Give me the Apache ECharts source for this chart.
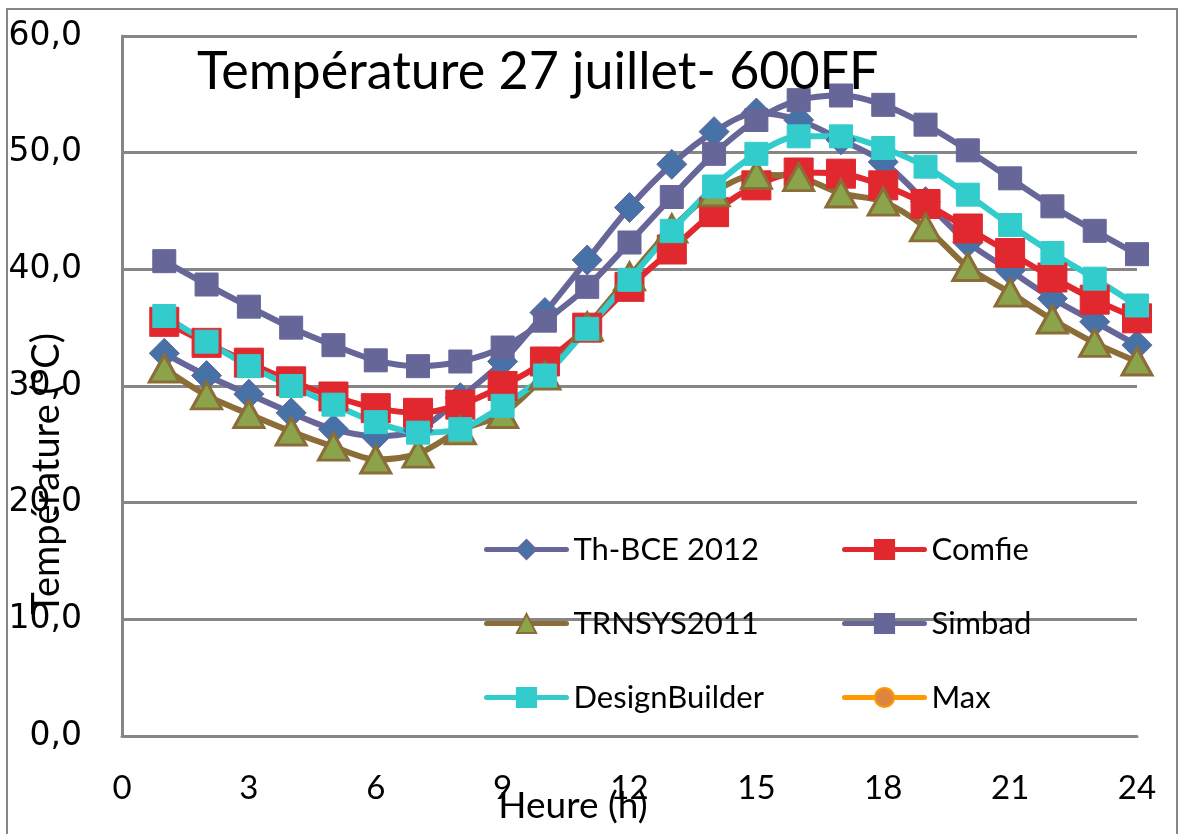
<!DOCTYPE html>
<html>
<head>
<meta charset="utf-8">
<script src="https://cdn.jsdelivr.net/npm/echarts@6/dist/echarts.min.js"></script>
<style>
html,body{margin:0;padding:0;background:#fff;}
#chart{width:1179px;height:834px;}
</style>
</head>
<body>
<div id="chart"></div>
<script>
// hours 1..24
const hours = [1,2,3,4,5,6,7,8,9,10,11,12,13,14,15,16,17,18,19,20,21,22,23,24];
const thBCE = [32.8,30.9,29.3,27.7,26.3,25.7,26.2,29.0,32.1,36.3,40.8,45.3,49.0,51.8,53.4,52.8,51.1,49.2,45.8,42.3,39.9,37.5,35.5,33.5];
const comfie = [35.5,33.7,32.0,30.4,29.1,28.1,27.7,28.4,30.0,32.1,35.0,38.5,41.7,44.9,47.2,48.3,48.2,47.2,45.6,43.5,41.4,39.3,37.4,35.8];
const trnsys = [31.5,29.2,27.6,26.1,24.8,23.7,24.2,26.2,27.6,30.9,35.1,39.4,43.5,46.6,48.1,47.9,46.5,45.8,43.6,40.2,38.0,35.7,33.7,32.1];
const simbad = [40.7,38.7,36.8,35.0,33.5,32.2,31.7,32.1,33.3,35.6,38.5,42.3,46.2,49.9,52.8,54.5,54.9,54.1,52.4,50.2,47.8,45.4,43.3,41.3];
const designBuilder = [36.0,33.8,31.7,30.0,28.4,26.9,26.0,26.3,28.3,30.9,34.9,39.1,43.3,47.1,49.9,51.4,51.4,50.4,48.8,46.4,43.8,41.4,39.2,36.9];
const maxValues = [];
const xTicks = [0,3,6,9,12,15,18,21,24];
const yTicks = [0,10,20,30,40,50,60];

const pair = arr => arr.map((v,i)=>[hours[i], v]);
const gray = '#868686';
const font = 'Lato';

const chart = echarts.init(document.getElementById('chart'), null, {renderer:'canvas'});

function lineSeries(name, data, lineColor, fill, border, symbol, size, bw) {
  return {
    name, type:'line', data: pair(data), smooth:0.3,
    symbol, symbolSize:size,
    lineStyle:{color:lineColor, width:6, cap:'round', join:'round'},
    itemStyle:{color:fill, borderColor:border, borderWidth:bw},
    emphasis:{disabled:true},
    animation:false
  };
}

const legendCommon = {
  orient:'vertical', itemWidth:80, itemHeight:24, itemGap:43, padding:0,
  lineStyle:{width:5, cap:'round'},
  textStyle:{fontFamily:font, fontSize:31, color:'#000', lineHeight:30, padding:[0,0,0,2]},
  selectedMode:false
};

chart.setOption({
  animation:false,
  grid:{left:122, right:42, top:36, bottom:98, containLabel:false},
  xAxis:{
    type:'value', min:0, max:24, interval:3,
    axisLine:{show:true, lineStyle:{color:gray, width:3}},
    axisTick:{show:false},
    splitLine:{show:false},
    axisLabel:{fontFamily:font, fontSize:33, color:'#000', margin:36}
  },
  yAxis:{
    type:'value', min:0, max:60, interval:10,
    axisLine:{show:true, lineStyle:{color:gray, width:3}},
    axisTick:{show:false},
    splitLine:{show:true, lineStyle:{color:gray, width:3}},
    axisLabel:{fontFamily:'DejaVu Sans', fontSize:33, color:'#000', margin:40,
      formatter: v => v.toFixed(1).replace('.', ',')}
  },
  legend:[
    Object.assign({}, legendCommon, {left:484, top:534, data:['Th-BCE 2012','TRNSYS2011','DesignBuilder']}),
    Object.assign({}, legendCommon, {left:842, top:534, data:['Comfie','Simbad','Max']})
  ],
  series:[
    lineSeries('Th-BCE 2012', thBCE, '#666699', '#4672A8', '#666699', 'diamond', [30,30], 1),
    lineSeries('Comfie', comfie, '#E0282E', '#E0282E', '#E0282E', 'rect', 29, 1),
    lineSeries('TRNSYS2011', trnsys, '#8B6D38', '#8BA34B', '#8B6D38', 'triangle', [30,27], 3),
    lineSeries('Simbad', simbad, '#666699', '#666699', '#666699', 'rect', 23, 1),
    lineSeries('DesignBuilder', designBuilder, '#33CCCC', '#33CCCC', '#33CCCC', 'rect', 23, 1),
    lineSeries('Max', maxValues, '#FF9900', '#DE8540', '#FF9900', 'circle', 22, 3)
  ],
  graphic:[
    {type:'rect', silent:true, z:-10, shape:{x:7, y:9, width:1170, height:900},
      style:{fill:'none', stroke:gray, lineWidth:2}},
    {type:'text', left:197, top:46, z:100,
      style:{text:'Température 27 juillet- 600FF', font:'52px Lato', fill:'#000'}},
    {type:'text', x:573, y:806, z:100,
      style:{text:'Heure (h)', font:'37px Lato', fill:'#000', textAlign:'center', textVerticalAlign:'middle'}},
    {type:'text', x:47, y:474, rotation:Math.PI/2, z:100,
      style:{text:'Température (°C)', font:'38px Lato', fill:'#000', textAlign:'center', textVerticalAlign:'middle'}}
  ]
});
</script>
</body>
</html>
